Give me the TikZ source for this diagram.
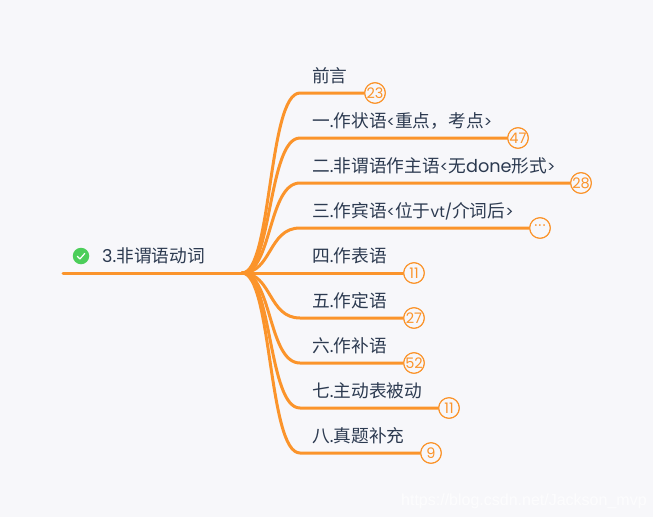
\documentclass[tikz,border=0pt]{standalone}
\usepackage{fontspec}
\setmainfont{Noto Sans CJK SC}
\newfontfamily\latinf{Poppins}
\newcommand{\lts}[1]{{\fontsize{15.4}{17}\latinf #1}}
\definecolor{bgc}{HTML}{F7F7FA}
\definecolor{org}{HTML}{FB942B}
\definecolor{ink}{HTML}{2C3A50}
\definecolor{grn}{HTML}{4CCE5A}
\tikzset{
 x=1pt,y=-1pt,
 lbl/.style={anchor=base west,inner sep=0pt,text=ink,font=\fontsize{17.7}{19}\selectfont},
 badge/.style={circle,draw=org,line width=1.1pt,fill=bgc,minimum size=20.5pt,inner sep=0pt,text=org,font=\fontsize{14.5}{15}\latinf},
 branch/.style={draw=org,line width=3pt,line cap=round},
}
\newcommand{\brn}[5]{% name, y, badge x, badge text, label
 \node[badge] (#1) at (#3,#2) {#4};
 \coordinate (#1b) at (300,#2);
 \draw[branch] (j) .. controls ($(j)+(30,0)$) and ($(#1b)+(-32,0)$) .. (#1b) -- (#1.west);
 \node[lbl] (#1t) at (312,#2-11) {#5};
 \node[badge] at (#1) {#4};
}
\usetikzlibrary{calc}
\begin{document}
\begin{tikzpicture}
\useasboundingbox (0,0) rectangle (653,517);
\fill[bgc] (0,0) rectangle (653,517);
\coordinate (j) at (242,273);
\coordinate (s) at (63,273);
\draw[branch] (s) -- (j);
\node[circle,fill=grn,minimum size=16.5pt,inner sep=0pt] (ok) at (81,256) {};
\draw[white,line width=1.2pt,line cap=round,line join=round] ($(ok)+(-3.6,0.3)$) -- ($(ok)+(-1,2.9)$) -- ($(ok)+(3.8,-2.6)$);
\node[lbl] (root) at (102,262.5) {{\latinf 3.}非谓语动词};
\brn{a}{93}{375}{23}{前言}
\brn{b}{138}{518}{47}{一{\latinf .}作状语\lts{<}重点，考点\lts{>}}
\brn{c}{183}{581}{28}{二{\latinf .}非谓语作主语\lts{<}无{\latinf done}形式\lts{>}}
\brn{d}{228}{540}{·\hspace{1pt}·\hspace{1pt}·}{三{\latinf .}作宾语\lts{<}位于\lts{vt/}介词后\lts{>}}
\brn{e}{273}{414}{11}{四{\latinf .}作表语}
\brn{f}{318}{414}{27}{五{\latinf .}作定语}
\brn{g}{363}{414}{52}{六{\latinf .}作补语}
\brn{h}{408}{449}{11}{七{\latinf .}主动表被动}
\brn{i}{453}{431}{9}{八{\latinf .}真题补充}
\node[anchor=base west,inner sep=0pt,text=white,opacity=.75,font=\fontsize{16}{18}\selectfont] (wm) at (401,505) {\fontspec{Liberation Sans}https://blog.csdn.net/Jackson\_mvp};
\end{tikzpicture}
\end{document}
